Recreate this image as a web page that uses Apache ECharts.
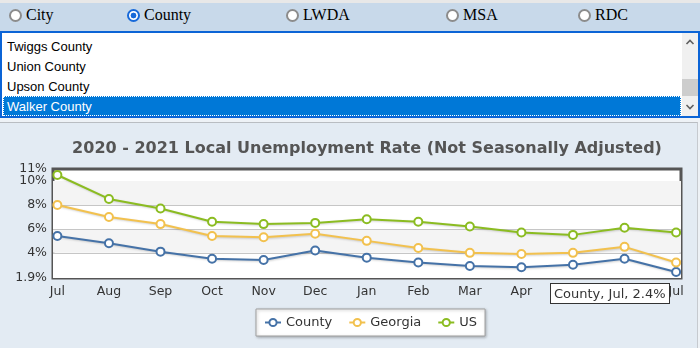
<!DOCTYPE html>
<html>
<head>
<meta charset="utf-8">
<title>Local Unemployment Rate</title>
<script src="https://cdn.jsdelivr.net/npm/echarts@6/dist/echarts.min.js"></script>
<style>
  html, body { margin: 0; padding: 0; width: 700px; height: 348px; overflow: hidden; background: #eef2f6; }
  #topStrip { position: absolute; left: 0; top: 0; width: 700px; height: 3px; background: #e8e8e8; }
  #radios { position: absolute; left: 0; top: 3px; width: 700px; height: 28px; background: #c8d9ea;
            font-family: "Liberation Serif", "Times New Roman", serif; font-size: 16px; color: #000; }
  .radio { position: absolute; top: 6px; width: 9px; height: 9px; border: 2px solid #8c8c8c; border-radius: 50%; background: #fff; }
  .radio.on { border-color: #1769d9; background: radial-gradient(circle, #1769d9 0 2.6px, #fff 3.2px); }
  .rlabel { position: absolute; top: 2px; line-height: 20px; }
  #list { position: absolute; left: 0; top: 31px; width: 696px; height: 83px; border: 2px solid #0b64d6; background: #fff;
          overflow: hidden; font-family: "Liberation Sans", Arial, sans-serif; font-size: 13px; color: #000; }
  .row { position: absolute; left: 1px; width: 674px; height: 20px; line-height: 21px; padding-left: 4px; white-space: nowrap; }
  .row.sel { background: #0078d7; color: #fff; outline: 1px dotted #fff; outline-offset: -1px; }
  #scroll { position: absolute; left: 680px; top: 0; width: 16px; height: 83px; background: #f0f0f0; }
  #thumb { position: absolute; left: 0; top: 46px; width: 16px; height: 17px; background: #cdcdcd; }
  #panel { position: absolute; left: 0; top: 122px; width: 697px; height: 226px; background: #e3ebf3;
           border-top: 1px solid #b9bdc2; border-right: 1px solid #c6cacf; }
  #chart { position: absolute; left: 0; top: 0; width: 700px; height: 348px; }
</style>
</head>
<body>
<div id="topStrip"></div>
<div id="radios"></div>
<div id="list">
  <div id="rows"></div>
  <div id="scroll">
    <svg width="16" height="83" style="position:absolute;left:0;top:0">
      <polyline points="4.5,11 8,7.5 11.5,11" fill="none" stroke="#606060" stroke-width="1.6"/>
      <polyline points="4.5,72 8,75.5 11.5,72" fill="none" stroke="#606060" stroke-width="1.6"/>
    </svg>
    <div id="thumb"></div>
  </div>
</div>
<div id="panel"></div>
<div id="chart"></div>
<script>
// Area-type selector and the county list above the chart
const areaTypes = ['City', 'County', 'LWDA', 'MSA', 'RDC'];
const selectedAreaType = 'County';
const visibleAreas = ['Twiggs County', 'Union County', 'Upson County', 'Walker County'];
const selectedArea = 'Walker County';

// Unemployment rates (%), July 2020 through July 2021
const months = ['Jul', 'Aug', 'Sep', 'Oct', 'Nov', 'Dec', 'Jan', 'Feb', 'Mar', 'Apr', 'May', 'Jun', 'Jul'];
const seriesNames = ['County', 'Georgia', 'US'];
const countyRate = [5.4, 4.8, 4.1, 3.5, 3.4, 4.2, 3.6, 3.2, 2.9, 2.8, 3.0, 3.5, 2.4];
const georgiaRate = [8.0, 7.0, 6.4, 5.4, 5.3, 5.6, 5.0, 4.4, 4.0, 3.9, 4.0, 4.5, 3.2];
const usRate = [10.5, 8.5, 7.7, 6.6, 6.4, 6.5, 6.8, 6.6, 6.2, 5.7, 5.5, 6.1, 5.7];
const yTicks = [1.9, 4, 6, 8, 10];
const yTopTick = [11];
const yMin = 1.9, yMax = 11;
const chartTitle = '2020 - 2021 Local Unemployment Rate (Not Seasonally Adjusted)';

// ---- selector widgets ----
const radioLeft = [9, 127, 286, 446, 578];
const radios = document.getElementById('radios');
areaTypes.forEach((name, i) => {
  const dot = document.createElement('div');
  dot.className = 'radio' + (name === selectedAreaType ? ' on' : '');
  dot.style.left = radioLeft[i] + 'px';
  radios.appendChild(dot);
  const lab = document.createElement('div');
  lab.className = 'rlabel';
  lab.style.left = (radioLeft[i] + 17) + 'px';
  lab.textContent = name;
  radios.appendChild(lab);
});
const rows = document.getElementById('rows');
visibleAreas.forEach((name, i) => {
  const r = document.createElement('div');
  r.className = 'row' + (name === selectedArea ? ' sel' : '');
  r.style.top = (3 + i * 20) + 'px';
  r.textContent = name;
  rows.appendChild(r);
});

// ---- chart ----
const rates = [countyRate, georgiaRate, usRate];
const colors = ['#4572a7', '#f2c14e', '#8bbc21'];
const monthIdx = months.map((m, i) => i);
const font = '"DejaVu Sans", Verdana, sans-serif';
const yLabelStyle = { color: '#333', fontSize: 12.5, fontFamily: font, margin: 6, formatter: v => v + '%' };

const chart = echarts.init(document.getElementById('chart'), null, { renderer: 'canvas' });
chart.setOption({
  backgroundColor: 'transparent',
  animation: false,
  textStyle: { fontFamily: font },
  title: {
    text: chartTitle,
    left: 367, top: 141, padding: 0, textAlign: 'center',
    textStyle: { fontFamily: font, fontWeight: 'bold', fontSize: 16, color: '#555' }
  },
  grid: {
    left: 53, right: 19, top: 169, bottom: 70,
    show: true, backgroundColor: '#fff', borderColor: '#555', borderWidth: 3
  },
  xAxis: {
    type: 'value', min: -0.085, max: 12.095,
    axisLine: { show: false },
    axisTick: { show: false, customValues: monthIdx },
    splitLine: { show: false },
    axisLabel: {
      customValues: monthIdx,
      formatter: v => months[Math.round(v)],
      color: '#333', fontSize: 12.5, fontFamily: font, margin: 7
    }
  },
  yAxis: [
    {
      type: 'value', min: yMin, max: yMax, position: 'left',
      axisLine: { show: false },
      axisTick: { show: false, customValues: yTicks },
      axisLabel: Object.assign({ customValues: yTicks }, yLabelStyle),
      splitLine: { show: true, showMinLine: false, showMaxLine: false, lineStyle: { color: '#c6c6c6', width: 1 } },
      splitArea: { show: true, areaStyle: { color: ['#ffffff', '#f4f4f4'] } }
    },
    {
      // top label of the same scale, kept on its own axis so it is not dropped next to 10%
      type: 'value', min: yMin, max: yMax, position: 'left', offset: 0,
      axisLine: { show: false },
      axisTick: { show: false, customValues: yTopTick },
      axisLabel: Object.assign({ customValues: yTopTick }, yLabelStyle),
      splitLine: { show: false },
      splitArea: { show: false }
    }
  ],
  legend: {
    data: seriesNames,
    left: 256, top: 309,
    itemWidth: 16, itemHeight: 9, itemGap: 16,
    padding: [7, 8],
    backgroundColor: '#fff', borderColor: '#a0a0a0', borderWidth: 1,
    shadowColor: 'rgba(0,0,0,0.28)', shadowBlur: 3, shadowOffsetX: 1, shadowOffsetY: 1,
    selectedMode: false,
    textStyle: { fontSize: 13, color: '#333', fontFamily: font }
  },
  tooltip: {
    trigger: 'item', triggerOn: 'none', alwaysShowContent: true,
    position: [550, 283], transitionDuration: 0,
    backgroundColor: '#fff', borderColor: '#333', borderWidth: 1, padding: [1, 3],
    textStyle: { fontSize: 13, color: '#333', fontFamily: font },
    extraCssText: 'border-radius:0;box-shadow:none;line-height:17px;',
    formatter: p => `${p.seriesName}, ${months[p.data[0]]}, ${p.data[1]}%`
  },
  series: seriesNames.map((name, i) => ({
    name,
    type: 'line',
    yAxisIndex: 0,
    data: rates[i].map((v, j) => [j, v]),
    color: colors[i],
    symbol: 'emptyCircle',
    symbolSize: 8,
    lineStyle: { width: 2, shadowColor: 'rgba(0,0,0,0.18)', shadowBlur: 2, shadowOffsetX: 1, shadowOffsetY: 1 },
    itemStyle: { borderWidth: 1.5 },
    emphasis: { disabled: true }
  }))
});
chart.dispatchAction({ type: 'showTip', seriesIndex: 0, dataIndex: countyRate.length - 1 });
</script>
</body>
</html>
